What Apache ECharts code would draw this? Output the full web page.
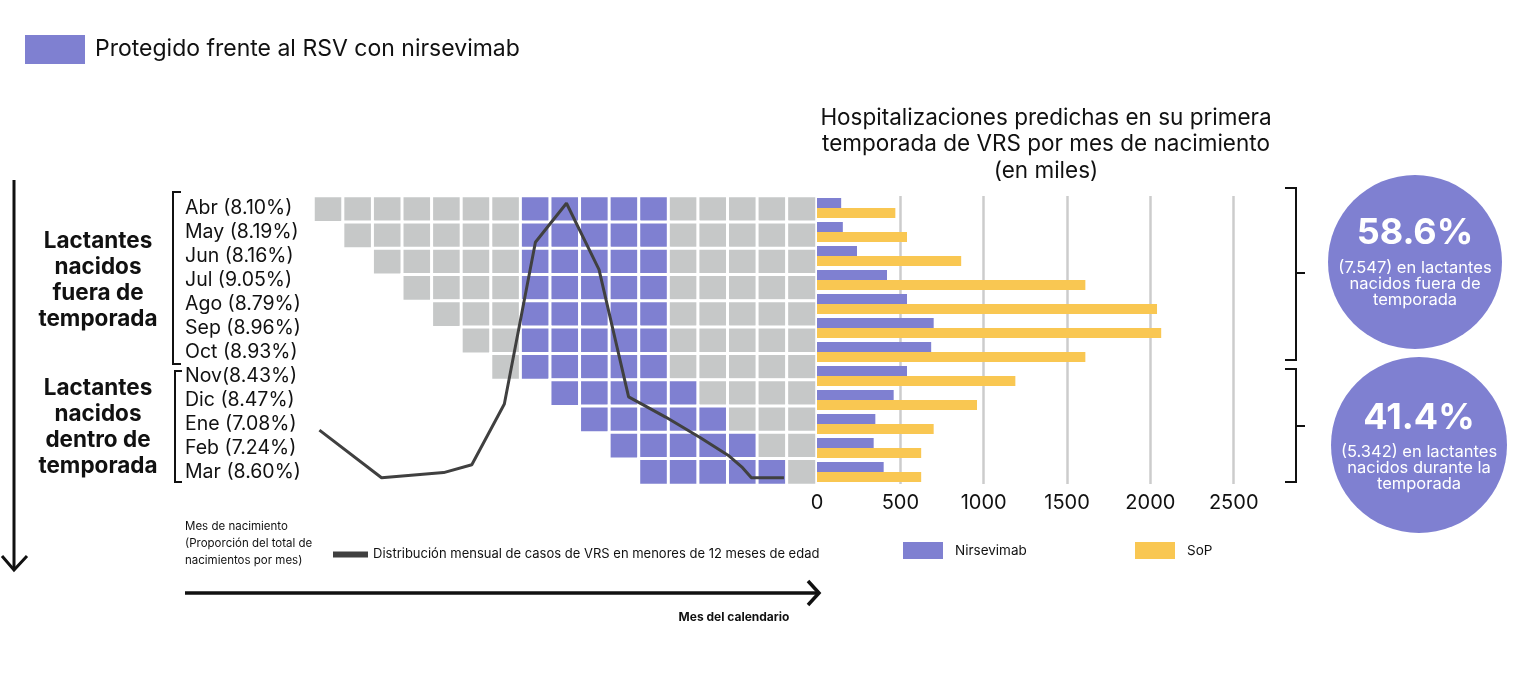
<!DOCTYPE html>
<html>
<head>
<meta charset="utf-8">
<script src="https://cdn.jsdelivr.net/npm/echarts@6/dist/echarts.min.js"></script>
<style>
  html, body { margin: 0; padding: 0; background: #fff; }
  #chart { width: 1521px; height: 700px; }
</style>
</head>
<body>
<div id="chart"></div>
<script>
// birth-month rows (bar chart + labels)
const birthMonthLabels = ['Abr (8.10%)', 'May (8.19%)', 'Jun (8.16%)', 'Jul (9.05%)', 'Ago (8.79%)', 'Sep (8.96%)',
  'Oct (8.93%)', 'Nov(8.43%)', 'Dic (8.47%)', 'Ene (7.08%)', 'Feb (7.24%)', 'Mar (8.60%)']
const nirsevimab = [145, 155, 240, 420, 540, 700, 685, 540, 460, 350, 340, 400]
const sop = [470, 540, 865, 1610, 2040, 2065, 1610, 1190, 960, 700, 625, 625]

// cohort grid: one row per cohort, columns are calendar months
const calendarColumns = 17
const cohortStartCol = [0, 1, 2, 3, 4, 5, 6, 8, 9, 10, 11]
const protectedStartCol = [7, 7, 7, 7, 7, 7, 7, 8, 9, 10, 11]
const protectedLength = 5

// monthly RSV case curve (x in calendar columns, y relative level 0-100)
const rsvCurveX = [0.2, 2.3, 4.4, 5.35, 6.45, 7.5, 8.55, 9.65, 10.65, 11.9, 13.05, 14.05, 14.5, 14.8, 15.9]
const rsvCurveY = [19, 2.5, 4.3, 7, 28, 84, 97.5, 74.5, 30.5, 23.5, 16.5, 10, 6, 2.5, 2.5]

const PURPLE = '#7f80d1'
const GRAY = '#c6c8c8'
const YELLOW = '#f9c752'
const INK = '#111'
const FONT = 'Inter'

const cells = []
cohortStartCol.forEach((start, row) => {
  for (let col = start; col < calendarColumns; col++) {
    const ps = protectedStartCol[row]
    cells.push([col, row, col >= ps && col < ps + protectedLength ? 1 : 0])
  }
})

const lineName = 'Distribución mensual de casos de VRS en menores de 12 meses de edad'

function text(x, y, str, opts) {
  return {
    type: 'text', x, y, silent: true,
    style: Object.assign({ text: str, fill: INK, fontFamily: FONT, fontSize: 14, align: 'left', verticalAlign: 'middle' }, opts),
  }
}
function poly(points, width) {
  return { type: 'polyline', silent: true, shape: { points }, style: { stroke: INK, lineWidth: width || 2, fill: null } }
}

const chart = echarts.init(document.getElementById('chart'))
chart.setOption({
  animation: false,
  textStyle: { fontFamily: FONT, color: INK },
  visualMap: {
    type: 'piecewise',
    seriesIndex: 0,
    left: 10, top: 20,
    itemWidth: 60, itemHeight: 29,
    itemSymbol: 'rect',
    textGap: 10,
    selectedMode: false,
    pieces: [{ value: 1, label: 'Protegido frente al RSV con nirsevimab', color: PURPLE }],
    outOfRange: { color: GRAY },
    textStyle: { fontSize: 23, color: INK, fontFamily: FONT },
  },
  legend: [
    { data: [{ name: 'Nirsevimab', icon: 'rect' }], left: 898, top: 537, itemWidth: 40, itemHeight: 17, selectedMode: false,
      textStyle: { fontSize: 13.5, color: INK, padding: [0, 0, 0, 7] } },
    { data: [{ name: 'SoP', icon: 'rect' }], left: 1130, top: 537, itemWidth: 40, itemHeight: 17, selectedMode: false,
      textStyle: { fontSize: 13.5, color: INK, padding: [0, 0, 0, 7] } },
    { data: [{ name: lineName, icon: 'rect' }], left: 328, top: 543, itemWidth: 35, itemHeight: 6, selectedMode: false,
      textStyle: { fontSize: 13, color: INK } },
  ],
  grid: [
    { left: 313.5, top: 196, width: 503, height: 289 },
    { left: 313.5, top: 196, width: 503, height: 289 },
    { left: 817, top: 196, width: 416.7, height: 288 },
  ],
  xAxis: [
    { gridIndex: 0, type: 'category', data: Array.from({ length: calendarColumns }, (_, i) => i), show: false },
    { gridIndex: 1, type: 'value', min: 0, max: calendarColumns, show: false },
    {
      gridIndex: 2, type: 'value', min: 0, max: 2500, interval: 500,
      axisLine: { show: false }, axisTick: { show: false },
      axisLabel: { fontSize: 20, color: INK, margin: 9, formatter: (v) => String(v) },
      splitLine: { showMinLine: false, lineStyle: { color: '#cccccc', width: 2.5 } },
    },
  ],
  yAxis: [
    { gridIndex: 0, type: 'category', inverse: true, data: cohortStartCol.map((_, i) => i), show: false },
    { gridIndex: 1, type: 'value', min: 0, max: 100, show: false },
    {
      gridIndex: 2, type: 'category', inverse: true, data: birthMonthLabels,
      axisLine: { show: false }, axisTick: { show: false },
      axisLabel: { interval: 0, align: 'left', margin: 632, fontSize: 19.5, color: INK },
    },
  ],
  series: [
    {
      type: 'heatmap', xAxisIndex: 0, yAxisIndex: 0, data: cells,
      itemStyle: { borderColor: '#fff', borderWidth: 3 },
      emphasis: { disabled: true },
    },
    {
      name: lineName, type: 'line', xAxisIndex: 1, yAxisIndex: 1, z: 5,
      data: rsvCurveX.map((x, i) => [x, rsvCurveY[i]]),
      symbol: 'none', color: '#404040', itemStyle: { color: '#404040' },
      lineStyle: { color: '#404040', width: 3 },
    },
    {
      name: 'Nirsevimab', type: 'bar', xAxisIndex: 2, yAxisIndex: 2, data: nirsevimab,
      barWidth: 10, barGap: 0, itemStyle: { color: PURPLE },
    },
    {
      name: 'SoP', type: 'bar', xAxisIndex: 2, yAxisIndex: 2, data: sop,
      barWidth: 10, barGap: 0, itemStyle: { color: YELLOW },
    },
  ],
  graphic: [
    text(1046, 144.5, 'Hospitalizaciones predichas en su primera\ntemporada de VRS por mes de nacimiento\n(en miles)',
      { fontSize: 22.5, align: 'center', lineHeight: 26.5 }),
    text(98, 280, 'Lactantes\nnacidos\nfuera de\ntemporada', { fontSize: 22.5, fontWeight: 'bold', align: 'center', lineHeight: 26 }),
    text(98, 427, 'Lactantes\nnacidos\ndentro de\ntemporada', { fontSize: 22.5, fontWeight: 'bold', align: 'center', lineHeight: 26 }),
    text(185, 544, 'Mes de nacimiento\n(Proporción del total de\nnacimientos por mes)', { fontSize: 11.5, lineHeight: 17 }),
    text(734, 617, 'Mes del calendario', { fontSize: 12, fontWeight: 'bold', align: 'center' }),
    // brackets
    poly([[181, 192], [173, 192], [173, 364], [181, 364]]),
    poly([[182, 371], [175, 371], [175, 482], [182, 482]]),
    poly([[1285, 188], [1296, 188], [1296, 360], [1285, 360]]),
    poly([[1296, 273], [1305, 273]]),
    poly([[1285, 369], [1296, 369], [1296, 482], [1285, 482]]),
    poly([[1296, 426], [1305, 426]]),
    // arrows
    poly([[14, 180], [14, 569]], 3),
    poly([[2, 556], [14, 570], [27, 556]], 3),
    poly([[185, 593], [817, 593]], 3.5),
    poly([[808, 581], [819, 593], [808, 605]], 3.5),
    // summary circles
    { type: 'circle', silent: true, shape: { cx: 1415, cy: 262, r: 87 }, style: { fill: PURPLE } },
    { type: 'circle', silent: true, shape: { cx: 1419, cy: 445, r: 88 }, style: { fill: PURPLE } },
    text(1415, 233, '58.6%', { fontSize: 36, fontWeight: 'bold', fill: '#fff', align: 'center' }),
    text(1415, 284, '(7.547) en lactantes\nnacidos fuera de\ntemporada', { fontSize: 16.5, fill: '#fff', align: 'center', lineHeight: 16 }),
    text(1419, 418, '41.4%', { fontSize: 36, fontWeight: 'bold', fill: '#fff', align: 'center' }),
    text(1419, 468, '(5.342) en lactantes\nnacidos durante la\ntemporada', { fontSize: 16.5, fill: '#fff', align: 'center', lineHeight: 16 }),
  ],
})
</script>
</body>
</html>
